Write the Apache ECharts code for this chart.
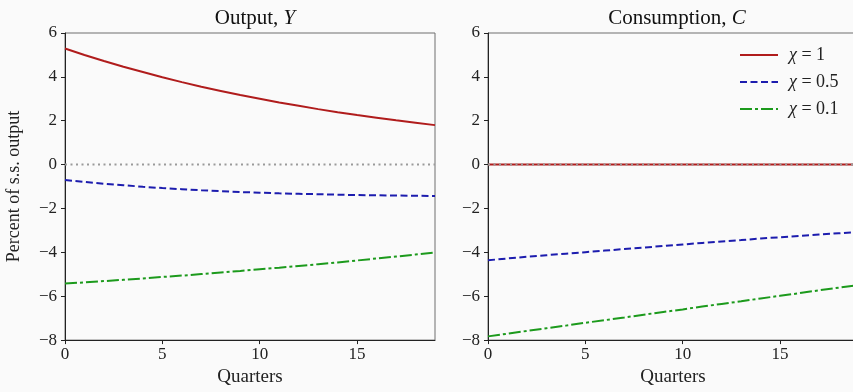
<!DOCTYPE html>
<html>
<head>
<meta charset="utf-8">
<script src="https://cdn.jsdelivr.net/npm/echarts@6/dist/echarts.min.js"></script>
<style>
  html, body { margin: 0; padding: 0; background: #fafafa; overflow: hidden; }
  #chart { width: 862px; height: 392px; }
</style>
</head>
<body>
<div id="chart"></div>
<script>
// quarters after the shock
const quarters = [0, 1, 2, 3, 4, 5, 6, 7, 8, 9, 10, 11, 12, 13, 14, 15, 16, 17, 18, 19]

// Output, Y (percent of s.s. output)
const outputChi1 = [5.29, 5.00, 4.72, 4.46, 4.22, 3.98, 3.76, 3.55, 3.36, 3.17, 3.00, 2.83, 2.68, 2.53, 2.39, 2.26, 2.14, 2.02, 1.91, 1.80]
const outputChi05 = [-0.70, -0.79, -0.87, -0.94, -1.01, -1.07, -1.12, -1.17, -1.21, -1.25, -1.28, -1.31, -1.33, -1.35, -1.37, -1.39, -1.40, -1.41, -1.42, -1.43]
const outputChi01 = [-5.42, -5.37, -5.31, -5.25, -5.19, -5.12, -5.06, -4.99, -4.92, -4.85, -4.77, -4.70, -4.62, -4.54, -4.46, -4.37, -4.28, -4.19, -4.10, -4.01]

// Consumption, C
const consChi1 = [0, 0, 0, 0, 0, 0, 0, 0, 0, 0, 0, 0, 0, 0, 0, 0, 0, 0, 0, 0]
const consChi05 = [-4.36, -4.28, -4.20, -4.13, -4.06, -3.99, -3.92, -3.85, -3.78, -3.71, -3.64, -3.57, -3.50, -3.44, -3.37, -3.31, -3.25, -3.19, -3.13, -3.07]
const consChi01 = [-7.83, -7.71, -7.58, -7.46, -7.34, -7.21, -7.09, -6.97, -6.84, -6.72, -6.60, -6.47, -6.35, -6.23, -6.10, -5.98, -5.86, -5.73, -5.61, -5.49]

const zeroLine = [0, 0, 0, 0, 0, 0, 0, 0, 0, 0, 0, 0, 0, 0, 0, 0, 0, 0, 0, 0]

const xTicks = [0, 5, 10, 15]
const yTicks = [-8, -6, -4, -2, 0, 2, 4, 6]
const legendNames = ['χ = 1', 'χ = 0.5', 'χ = 0.1']

const FONT = '"Liberation Serif", "DejaVu Serif", serif'

const pairs = vals => quarters.map((q, i) => [q, vals[i]])

// line looks
const styles = [
  { color: '#b01c1c', type: 'solid' },
  { color: '#1c1cae', type: [7, 3.5] },
  { color: '#1c9a1c', type: [12, 3, 3, 3] }
]

const chart = echarts.init(document.getElementById('chart'))

const xAxisCfg = gridIndex => ({
  type: 'value',
  gridIndex,
  min: 0,
  max: 19,
  interval: 5,
  name: 'Quarters',
  nameLocation: 'middle',
  nameGap: 27,
  nameTextStyle: { fontFamily: FONT, fontSize: 19, color: '#222' },
  axisLine: { onZero: false, lineStyle: { color: '#222', width: 1 } },
  axisTick: { length: 4, customValues: xTicks, lineStyle: { color: '#222' } },
  axisLabel: { customValues: xTicks, fontFamily: FONT, fontSize: 17, color: '#222', margin: 6 },
  splitLine: { show: false }
})

const yAxisCfg = (gridIndex, withName) => ({
  type: 'value',
  gridIndex,
  min: -8,
  max: 6,
  interval: 2,
  name: withName ? 'Percent of s.s. output' : '',
  nameLocation: 'middle',
  nameGap: 42,
  nameTextStyle: { fontFamily: FONT, fontSize: 18, color: '#222' },
  axisLine: { show: true, onZero: false, lineStyle: { color: '#222', width: 1 } },
  axisTick: { show: true, length: 4, customValues: yTicks, lineStyle: { color: '#222' } },
  axisLabel: {
    customValues: yTicks,
    fontFamily: FONT, fontSize: 17, color: '#222', margin: 8,
    formatter: v => String(v).replace('-', '\u2212')
  },
  splitLine: { show: false }
})

const makeSeries = (data, idx, k) => ({
  name: legendNames[k],
  type: 'line',
  xAxisIndex: idx,
  yAxisIndex: idx,
  data: pairs(data),
  showSymbol: false,
  symbol: 'none',
  smooth: false,
  lineStyle: { color: styles[k].color, width: 2, type: styles[k].type },
  itemStyle: { color: styles[k].color },
  z: 3
})

const zeroSeries = idx => ({
  name: 'zero',
  type: 'line',
  xAxisIndex: idx,
  yAxisIndex: idx,
  data: pairs(zeroLine),
  symbol: 'none',
  lineStyle: { color: '#9a9a9a', width: 2, type: [2, 3.5] },
  z: idx === 0 ? 2 : 4
})

const titleRich = {
  n: { fontFamily: FONT, fontSize: 21, fontWeight: 'normal', color: '#111' },
  i: { fontFamily: FONT, fontSize: 21, fontWeight: 'normal', fontStyle: 'italic', color: '#111' }
}

const option = {
  backgroundColor: '#fafafa',
  animation: false,
  title: [
    { text: '{n|Output, }{i|Y}', left: 250, top: 3, textAlign: 'center', textStyle: { fontWeight: 'normal', rich: titleRich } },
    { text: '{n|Consumption, }{i|C}', left: 672, top: 3, textAlign: 'center', textStyle: { fontWeight: 'normal', rich: titleRich } }
  ],
  legend: {
    data: legendNames,
    orient: 'vertical',
    left: 734,
    top: 41,
    itemWidth: 38,
    itemHeight: 14,
    itemGap: 9,
    itemStyle: { opacity: 0 },
    textStyle: {
      fontFamily: FONT, fontSize: 18, color: '#222',
      rich: {
        s: { width: 6 },
        i: { fontFamily: FONT, fontSize: 18, fontStyle: 'italic', color: '#222' }
      }
    },
    formatter: name => '{s|}{i|χ}' + name.slice(1),
    selectedMode: false
  },
  grid: [
    { left: 65, top: 33, width: 370, height: 310, show: true, borderColor: '#6e6e6e', borderWidth: 1, backgroundColor: '#fafafa' },
    { left: 488, top: 33, width: 370, height: 310, show: true, borderColor: '#6e6e6e', borderWidth: 1, backgroundColor: '#fafafa' }
  ],
  xAxis: [xAxisCfg(0), xAxisCfg(1)],
  yAxis: [yAxisCfg(0, true), yAxisCfg(1, false)],
  series: [
    zeroSeries(0),
    makeSeries(outputChi1, 0, 0),
    makeSeries(outputChi05, 0, 1),
    makeSeries(outputChi01, 0, 2),
    makeSeries(consChi1, 1, 0),
    makeSeries(consChi05, 1, 1),
    makeSeries(consChi01, 1, 2),
    zeroSeries(1)
  ]
}

chart.setOption(option)
</script>
</body>
</html>
